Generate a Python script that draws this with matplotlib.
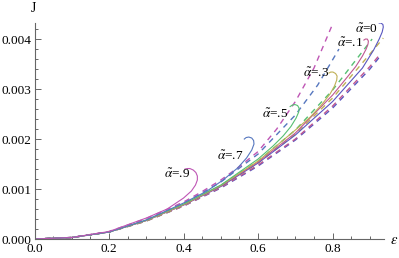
import matplotlib
matplotlib.use("Agg")
import matplotlib.pyplot as plt
import colorsys

plt.rcParams['font.family'] = ['Liberation Serif', 'DejaVu Serif']
plt.rcParams['mathtext.fontset'] = 'stix'

# Mathematica-style default colors
def hue(h, s=0.55, v=0.75):
    return colorsys.hsv_to_rgb(h, s, v)

c_blue = hue(0.67)
c_pink = hue(0.906)
c_yell = hue(0.142)
c_green = hue(0.378)
c_blue2 = hue(0.614)
c_mag = hue(0.85)

# solid curves (eps, J)
s0_eps = [0, 0.1, 0.2, 0.3, 0.4, 0.5, 0.6, 0.7, 0.8, 0.88, 0.91, 0.925, 0.933, 0.936, 0.935, 0.93, 0.925]
s0_J = [0, 3e-5, 1.4e-4, 3.7e-4, 6.8e-4, 1.05e-3, 1.52e-3, 2.08e-3, 2.75e-3, 3.42e-3, 3.78e-3, 4.0e-3, 4.14e-3, 4.24e-3, 4.29e-3, 4.32e-3, 4.32e-3]

s1_eps = [0, 0.1, 0.2, 0.3, 0.4, 0.5, 0.6, 0.7, 0.8, 0.835, 0.862, 0.88, 0.89, 0.895, 0.896, 0.893, 0.888, 0.884]
s1_J = [0, 3e-5, 1.4e-4, 3.7e-4, 6.8e-4, 1.06e-3, 1.54e-3, 2.12e-3, 2.88e-3, 3.2e-3, 3.45e-3, 3.66e-3, 3.8e-3, 3.9e-3, 3.96e-3, 4.0e-3, 4.0e-3, 3.98e-3]

s3_eps = [0, 0.1, 0.2, 0.3, 0.4, 0.5, 0.6, 0.7, 0.74, 0.772, 0.793, 0.805, 0.811, 0.812, 0.808, 0.801, 0.795, 0.79]
s3_J = [0, 3e-5, 1.4e-4, 3.7e-4, 6.9e-4, 1.07e-3, 1.56e-3, 2.18e-3, 2.44e-3, 2.7e-3, 2.9e-3, 3.06e-3, 3.18e-3, 3.26e-3, 3.31e-3, 3.34e-3, 3.34e-3, 3.32e-3]

s5_eps = [0, 0.1, 0.2, 0.3, 0.4, 0.5, 0.6, 0.64, 0.667, 0.688, 0.702, 0.709, 0.71, 0.706, 0.699, 0.692, 0.686]
s5_J = [0, 3e-5, 1.4e-4, 3.8e-4, 7.0e-4, 1.08e-3, 1.6e-3, 1.86e-3, 2.06e-3, 2.25e-3, 2.42e-3, 2.54e-3, 2.62e-3, 2.67e-3, 2.69e-3, 2.68e-3, 2.65e-3]

s7_eps = [0, 0.1, 0.2, 0.3, 0.4, 0.463, 0.506, 0.545, 0.569, 0.583, 0.589, 0.588, 0.583, 0.575, 0.568, 0.563]
s7_J = [0, 3e-5, 1.4e-4, 3.8e-4, 7.2e-4, 9.6e-4, 1.18e-3, 1.42e-3, 1.62e-3, 1.78e-3, 1.9e-3, 1.97e-3, 2.02e-3, 2.04e-3, 2.03e-3, 2.0e-3]

s9_eps = [0, 0.1, 0.2, 0.3, 0.356, 0.4, 0.421, 0.432, 0.437, 0.437, 0.433, 0.426, 0.417, 0.41, 0.404]
s9_J = [0, 3e-5, 1.5e-4, 4.2e-4, 6.0e-4, 8.2e-4, 9.6e-4, 1.08e-3, 1.18e-3, 1.26e-3, 1.33e-3, 1.38e-3, 1.41e-3, 1.41e-3, 1.4e-3]

# dashed curves (eps, J)
d0_eps = [0, 0.1, 0.2, 0.3, 0.4, 0.5, 0.6, 0.7, 0.8, 0.9, 0.928]
d0_J = [0, 3e-5, 1.4e-4, 3.6e-4, 6.6e-4, 1.02e-3, 1.46e-3, 1.98e-3, 2.62e-3, 3.4e-3, 3.66e-3]

d1_eps = [0, 0.1, 0.2, 0.3, 0.4, 0.5, 0.6, 0.7, 0.8, 0.9, 0.93]
d1_J = [0, 3e-5, 1.4e-4, 3.6e-4, 6.6e-4, 1.03e-3, 1.48e-3, 2.0e-3, 2.66e-3, 3.45e-3, 3.72e-3]

d3_eps = [0, 0.1, 0.2, 0.3, 0.4, 0.5, 0.6, 0.7, 0.8, 0.9, 0.936]
d3_J = [0, 3e-5, 1.4e-4, 3.6e-4, 6.7e-4, 1.05e-3, 1.52e-3, 2.1e-3, 2.82e-3, 3.7e-3, 4.02e-3]

d5_eps = [0, 0.1, 0.2, 0.3, 0.4, 0.5, 0.6, 0.7, 0.8, 0.906]
d5_J = [0, 3e-5, 1.4e-4, 3.7e-4, 6.8e-4, 1.07e-3, 1.56e-3, 2.18e-3, 2.98e-3, 4.0e-3]

d7_eps = [0, 0.1, 0.2, 0.3, 0.4, 0.5, 0.6, 0.7, 0.76, 0.817]
d7_J = [0, 3e-5, 1.4e-4, 3.8e-4, 7.1e-4, 1.14e-3, 1.7e-3, 2.48e-3, 3.08e-3, 3.8e-3]

d9_eps = [0, 0.1, 0.2, 0.3, 0.4, 0.45, 0.5, 0.55, 0.6, 0.65, 0.7, 0.75, 0.8]
d9_J = [0, 3e-5, 1.5e-4, 4.1e-4, 7.4e-4, 9.5e-4, 1.18e-3, 1.45e-3, 1.75e-3, 2.2e-3, 2.75e-3, 3.42e-3, 4.3e-3]

labels = [r'$\tilde{\alpha}$=0', r'$\tilde{\alpha}$=.1', r'$\tilde{\alpha}$=.3',
          r'$\tilde{\alpha}$=.5', r'$\tilde{\alpha}$=.7', r'$\tilde{\alpha}$=.9']
label_eps = [0.89, 0.847, 0.755, 0.645, 0.525, 0.382]
label_J = [0.00419, 0.00392, 0.00332, 0.0025, 0.00166, 0.0013]

fig = plt.figure(figsize=(3.99, 2.58), dpi=100)
ax = fig.add_axes([0.0865, 0.0736, 0.876, 0.837])

solids = [(s0_eps, s0_J, c_blue), (s1_eps, s1_J, c_pink), (s3_eps, s3_J, c_yell),
          (s5_eps, s5_J, c_green), (s7_eps, s7_J, c_blue2), (s9_eps, s9_J, c_mag)]
dashed = [(d0_eps, d0_J, c_blue), (d1_eps, d1_J, c_pink), (d3_eps, d3_J, c_yell),
          (d5_eps, d5_J, c_green), (d7_eps, d7_J, c_blue2), (d9_eps, d9_J, c_mag)]

for e, j, c in dashed:
    ax.plot(e, j, color=c, lw=1.0, dashes=(4, 3.5))
for e, j, c in solids:
    ax.plot(e, j, color=c, lw=0.8)

for t, x, y in zip(labels, label_eps, label_J):
    ax.text(x, y, t, fontsize=9.5, ha='center', va='center')

ax.set_xlim(0, 0.938)
ax.set_ylim(0, 0.00432)
ax.spines['top'].set_visible(False)
ax.spines['right'].set_visible(False)
for s in ['left', 'bottom']:
    ax.spines[s].set_color('#666666')
    ax.spines[s].set_linewidth(0.8)

ax.set_xticks([0, 0.2, 0.4, 0.6, 0.8])
ax.set_xticklabels(['0.0', '0.2', '0.4', '0.6', '0.8'])
ax.set_xticks([0.05 * i for i in range(19) if i % 4 != 0], minor=True)
ax.set_yticks([0, 0.001, 0.002, 0.003, 0.004])
ax.set_yticklabels(['0.000', '0.001', '0.002', '0.003', '0.004'])
ax.set_yticks([0.0002 * i for i in range(22) if i % 5 != 0], minor=True)
ax.tick_params(which='both', direction='in', color='#666666', labelsize=9.5, width=0.7)
ax.tick_params(which='major', length=4)
ax.tick_params(axis='x', which='major', pad=3)
ax.tick_params(axis='y', which='major', pad=2.5)
ax.tick_params(which='minor', length=2.2)

fig.text(33 / 399, 1 - 8 / 258, 'J', fontsize=10, ha='center', va='center')
fig.text(394 / 399, 1 - 241 / 258, r'$\epsilon$', fontsize=10.5, ha='center', va='center')

fig.savefig('out.png', dpi=100)
